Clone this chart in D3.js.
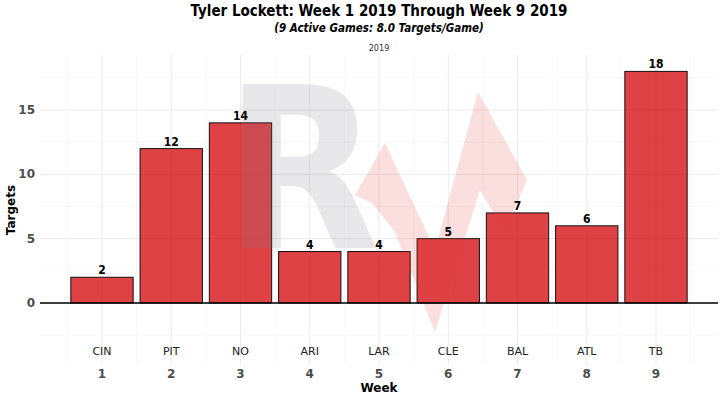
<!DOCTYPE html>
<html><head><meta charset="utf-8">
<script src="https://cdn.jsdelivr.net/npm/d3@7"></script>
<style>
body{margin:0;background:#fff;}
text{font-family:"DejaVu Sans";}
.c{font-stretch:condensed;}
</style></head>
<body><svg id="chart" width="724" height="400"></svg>
<script>
const weeks = [1,2,3,4,5,6,7,8,9];
const opponents = ["CIN","PIT","NO","ARI","LAR","CLE","BAL","ATL","TB"];
const targets = [2,12,14,4,4,5,7,6,18];
const yTicks = [0,5,10,15];

const svg = d3.select('#chart');
const pLeft = 40, pRight = 718, pTop = 55, pBottom = 365;

// week 1 centre at 102, week 9 at 656
let x = d3.scaleLinear().domain([1, 9]).range([102, 656]);
let y = d3.scaleLinear().domain([0, 15]).range([303, 110]);
let bw = (x(2)-x(1))*0.9;

let g = svg.append('g');
// grid
for (let v = -2.5; v <= 17.5; v += 2.5) {
	g.append('line').attr('x1',pLeft).attr('x2',pRight).attr('y1',y(v)).attr('y2',y(v))
		.attr('stroke', v % 5 === 0 ? '#ebebeb' : '#f4f4f4').attr('stroke-width', v%5===0?1:0.6);
}
for (let w = 0.5; w <= 9.5; w += 0.5) {
	g.append('line').attr('x1',x(w)).attr('x2',x(w)).attr('y1',pTop).attr('y2',pBottom)
		.attr('stroke', Number.isInteger(w) ? '#ebebeb' : '#f4f4f4').attr('stroke-width', Number.isInteger(w)?1:0.6);
}

// bars
g.selectAll('rect.bar').data(targets).enter().append('rect')
	.attr('x',(d,i)=>x(weeks[i])-bw/2).attr('width',bw)
	.attr('y',d=>y(d)).attr('height',d=>y(0)-y(d))
	.attr('fill','#d7191c').attr('fill-opacity',0.82)
	.attr('stroke','#111').attr('stroke-width',1);

// watermark, drawn over the bars
g.append('text').attr('class','c').attr('x',302).attr('y',248).attr('text-anchor','middle')
	.attr('font-size',225).attr('font-weight','bold').attr('fill','#7a7a85').attr('opacity',0.17).text('R');
g.append('path').attr('d','M355,195 L385,143 L435,250 L478,92 L527,180 L505,232 L480,190 L435,332 L395,232 L372,203 Z')
	.attr('fill','#e8393c').attr('opacity',0.17);

g.selectAll('text.lab').data(targets).enter().append('text')
	.attr('class','c').attr('x',(d,i)=>x(weeks[i])).attr('y',d=>y(d)-3)
	.attr('text-anchor','middle').attr('font-size',12).attr('font-weight','bold').text(d=>d);

g.append('line').attr('x1',pLeft).attr('x2',pRight).attr('y1',y(0)).attr('y2',y(0))
	.attr('stroke','#000').attr('stroke-width',1.5);

g.selectAll('text.opp').data(opponents).enter().append('text')
	.attr('x',(d,i)=>x(weeks[i])).attr('y',355).attr('text-anchor','middle')
	.attr('font-size',11).attr('fill','#222').text(d=>d);

// axes text
g.selectAll('text.wk').data(weeks).enter().append('text')
	.attr('x',d=>x(d)).attr('y',378).attr('text-anchor','middle')
	.attr('font-size',12).attr('font-weight','bold').attr('fill','#4d4d4d').text(d=>d);
g.selectAll('text.yt').data(yTicks).enter().append('text')
	.attr('x',35).attr('y',d=>y(d)+4).attr('text-anchor','end')
	.attr('font-size',12).attr('font-weight','bold').attr('fill','#4d4d4d').text(d=>d);

svg.append('text').attr('x',379).attr('y',392).attr('text-anchor','middle')
	.attr('font-size',12).attr('font-weight','bold').text('Week');
svg.append('text').attr('transform','translate(15,210) rotate(-90)').attr('text-anchor','middle')
	.attr('font-size',12).attr('font-weight','bold').text('Targets');

svg.append('text').attr('class','c').attr('x',379).attr('y',16).attr('text-anchor','middle')
	.attr('font-size',15).attr('font-weight','bold').text('Tyler Lockett: Week 1 2019 Through Week 9 2019');
svg.append('text').attr('class','c').attr('x',379).attr('y',32).attr('text-anchor','middle')
	.attr('font-size',11.5).attr('font-weight','bold').attr('font-style','italic').text('(9 Active Games: 8.0 Targets/Game)');
svg.append('text').attr('class','c').attr('x',379).attr('y',51).attr('text-anchor','middle')
	.attr('font-size',9).attr('fill','#333').text('2019');
</script></body></html>
